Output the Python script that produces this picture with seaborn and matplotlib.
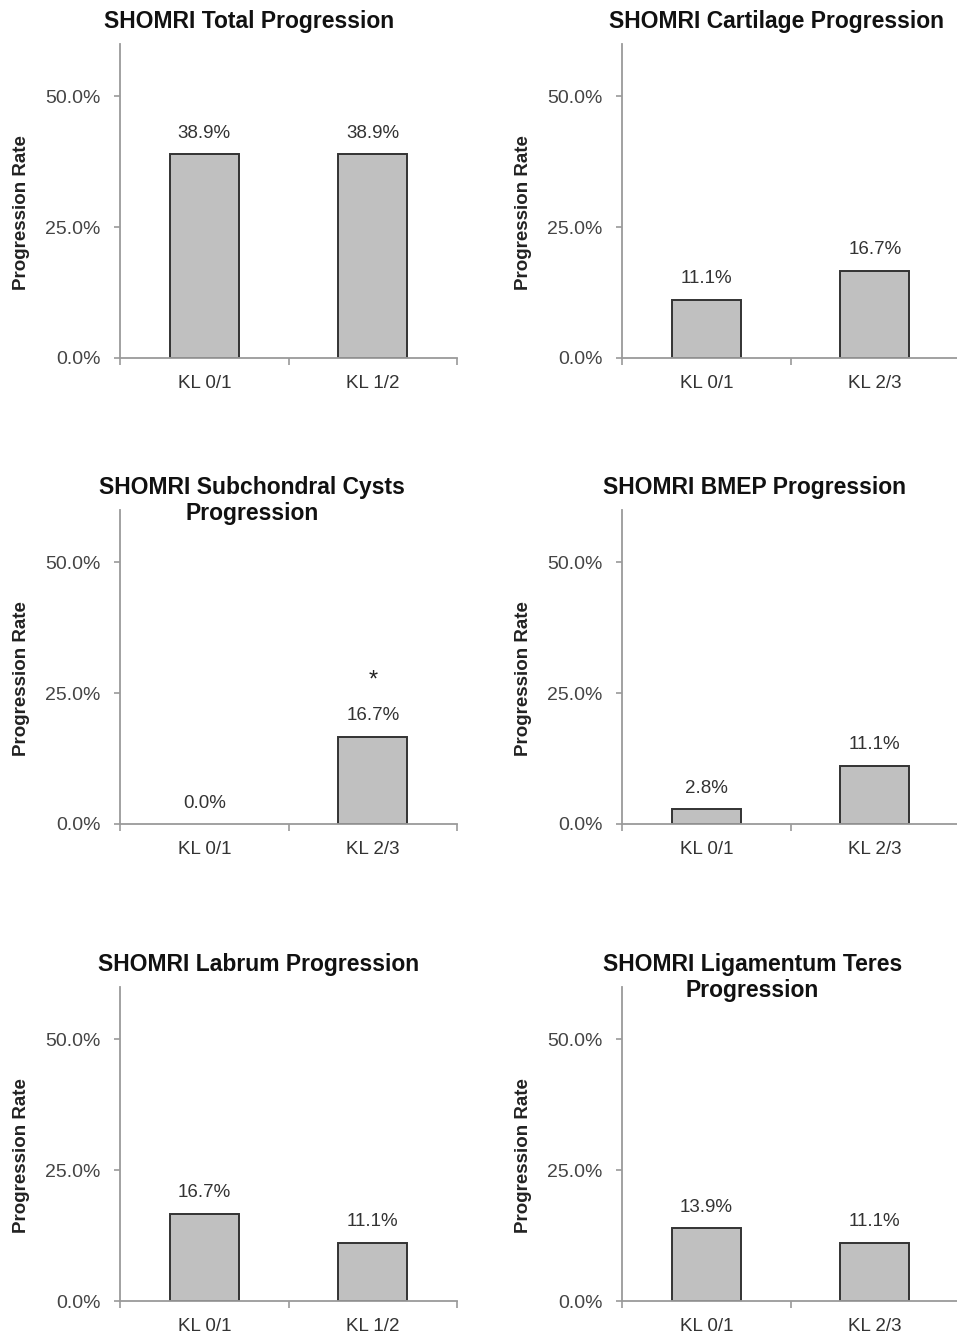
import seaborn as sns
import pandas as pd
import matplotlib.pyplot as plt
from matplotlib.ticker import FuncFormatter

# chart data
titles = ["SHOMRI Total Progression",
          "SHOMRI Cartilage Progression",
          "SHOMRI Subchondral Cysts\nProgression",
          "SHOMRI BMEP Progression",
          "SHOMRI Labrum Progression",
          "SHOMRI Ligamentum Teres\nProgression"]
groups = [["KL 0/1", "KL 1/2"],
          ["KL 0/1", "KL 2/3"],
          ["KL 0/1", "KL 2/3"],
          ["KL 0/1", "KL 2/3"],
          ["KL 0/1", "KL 1/2"],
          ["KL 0/1", "KL 2/3"]]
rates = [[38.9, 38.9],
         [11.1, 16.7],
         [0.0, 16.7],
         [2.8, 11.1],
         [16.7, 11.1],
         [13.9, 11.1]]
# (chart index, bar index) marked as significant
significant = [(2, 1)]

sns.set_theme(style='white')
plt.rcParams['font.family'] = ['Liberation Sans', 'DejaVu Sans']

W, H = 957, 1336
fig = plt.figure(figsize=(W / 100, H / 100), dpi=100)

# axes boxes in pixels: left, top, width, height
col_left = [120, 622]
row_top = [44, 510, 987]
ax_w, ax_h = 337, 314
title_x = [0.383, 0.458, 0.392, 0.393, 0.41, 0.387]

axis_col = '#9a9a9a'

for i, (title, grp, vals) in enumerate(zip(titles, groups, rates)):
    r, c = divmod(i, 2)
    left = col_left[c] / W
    bottom = 1 - (row_top[r] + ax_h) / H
    ax = fig.add_axes([left, bottom, ax_w / W, ax_h / H])

    df = pd.DataFrame({'group': grp, 'rate': vals})
    sns.barplot(data=df, x='group', y='rate', ax=ax, color='#c0c0c0',
                edgecolor='#333333', linewidth=1.4, width=0.41, saturation=1)
    for p in ax.patches:
        if p.get_height() == 0:
            p.set_visible(False)

    ax.bar_label(ax.containers[0], fmt='%.1f%%', padding=9, fontsize=13.5,
                 color='#333333')
    for ci, bi in significant:
        if ci == i:
            ax.annotate('*', xy=(bi, vals[bi]), xytext=(0, 36),
                        textcoords='offset points', ha='center',
                        va='baseline', fontsize=17, color='#222222')

    ax.set_xlim(-0.5, 1.5)
    ax.set_ylim(0, 60)
    ax.set_yticks([0, 25, 50])
    ax.yaxis.set_major_formatter(FuncFormatter(lambda v, _: f'{v:.1f}%'))
    ax.set_xticks([-0.5, 0.5, 1.5], minor=True)

    for s in ['top', 'right']:
        ax.spines[s].set_visible(False)
    for s in ['left', 'bottom']:
        ax.spines[s].set_color(axis_col)
        ax.spines[s].set_linewidth(1.3)

    ax.tick_params(axis='y', length=4, width=1.2, color=axis_col,
                   direction='out', pad=10, labelsize=14, labelcolor='#444444',
                   left=True)
    ax.tick_params(axis='x', which='major', length=0, pad=12, labelsize=13.5,
                   labelcolor='#333333')
    ax.tick_params(axis='x', which='minor', length=5, width=1.2,
                   color=axis_col, direction='out', bottom=True)

    ax.set_xlabel('')
    ax.set_ylabel('Progression Rate', fontsize=13.5, fontweight='bold',
                  color='#222222')
    ax.yaxis.set_label_coords(-0.268, 0.462)

    ty = 1.051 if '\n' not in title else 0.967
    ax.text(title_x[i], ty, title, transform=ax.transAxes, ha='center',
            va='baseline', fontsize=16.5, fontweight='bold', color='#111111',
            linespacing=1.2)

fig.savefig('out.png', dpi=100)
